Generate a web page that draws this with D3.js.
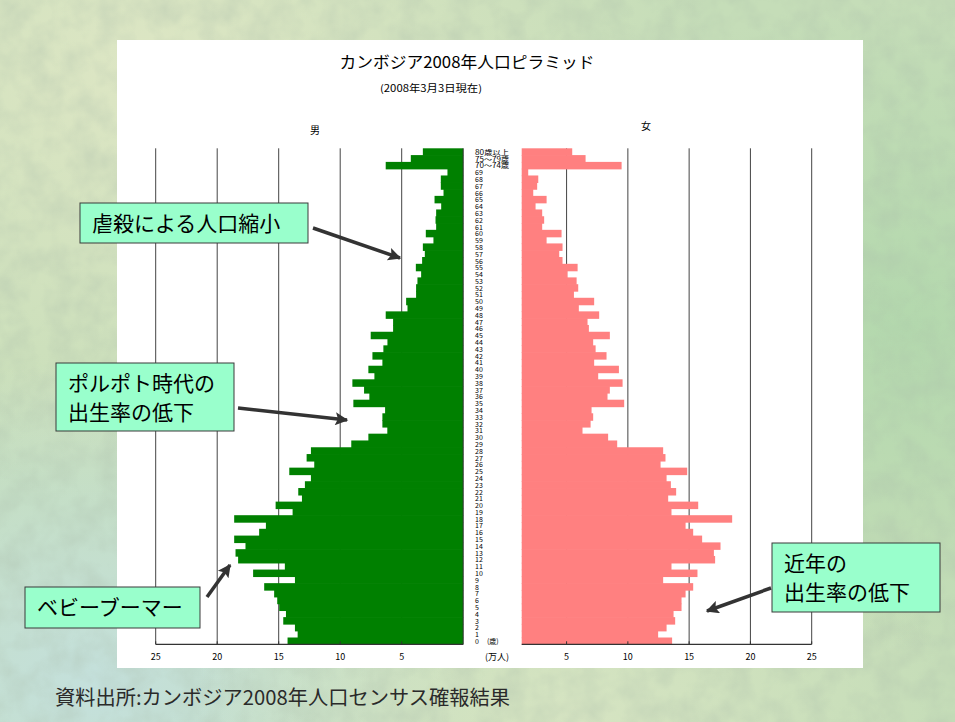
<html>
<head>
<meta charset="utf-8">
<title>カンボジア2008年人口ピラミッド</title>
<style>
  body { margin: 0; padding: 0; }
  svg { display: block; }
</style>
</head>
<body>
<svg width="955" height="722"></svg>
<script src="https://d3js.org/d3.v7.min.js"></script>
<script>

// age groups, top row first
var ageLabels = ["80歳以上", "75～79歳", "70～74歳",
  "69","68","67","66","65","64","63","62","61","60",
  "59","58","57","56","55","54","53","52","51","50",
  "49","48","47","46","45","44","43","42","41","40",
  "39","38","37","36","35","34","33","32","31","30",
  "29","28","27","26","25","24","23","22","21","20",
  "19","18","17","16","15","14","13","12","11","10",
  "9","8","7","6","5","4","3","2","1","0"];

// population, 万人
var male = [3.28, 4.26, 6.30,
  1.28, 1.82, 1.82, 1.60, 2.33, 1.79, 2.20, 2.25, 2.20, 3.04,
  2.42, 3.28, 3.12, 3.34, 3.85, 3.42, 3.72, 3.83, 3.83, 4.64,
  4.53, 6.30, 5.70, 5.70, 7.52, 6.16, 6.49, 7.38, 6.57, 7.71,
  7.22, 9.01, 8.06, 7.63, 8.93, 6.35, 6.57, 6.57, 6.17, 7.71,
  9.10, 12.38, 12.73, 12.11, 14.14, 12.38, 12.87, 13.41, 13.11, 15.25,
  13.87, 18.62, 16.04, 16.59, 18.62, 17.70, 18.51, 18.30, 14.50, 17.08,
  13.68, 16.18, 15.37, 15.12, 14.96, 14.41, 14.63, 13.68, 13.46, 14.28];

var female = [5.46, 6.55, 9.49,
  1.87, 2.69, 2.60, 2.28, 3.37, 2.47, 3.01, 3.17, 3.01, 4.59,
  3.37, 4.67, 4.40, 4.67, 5.90, 5.08, 5.82, 5.95, 5.60, 7.25,
  6.00, 7.66, 6.71, 6.82, 8.53, 7.17, 7.37, 8.26, 7.25, 9.27,
  7.58, 9.57, 8.53, 8.34, 9.70, 7.04, 7.17, 6.96, 6.30, 8.39,
  9.13, 12.88, 13.07, 12.67, 14.84, 13.16, 13.51, 13.94, 13.29, 15.74,
  13.56, 18.51, 14.71, 15.33, 16.06, 17.56, 17.02, 17.12, 13.56, 15.68,
  12.88, 15.33, 14.71, 14.38, 14.38, 13.73, 13.86, 13.16, 12.47, 13.61];

var maleTicks = [25, 20, 15, 10, 5];
var femaleTicks = [5, 10, 15, 20, 25];

var notes = [
  {lines: ["虐殺による人口縮小"]},
  {lines: ["ポルポト時代の", "出生率の低下"]},
  {lines: ["ベビーブーマー"]},
  {lines: ["近年の", "出生率の低下"]}
];

var jp = "'Noto Sans CJK JP', 'Noto Sans', sans-serif";
var svg = d3.select('svg');

// ---- background ----
var defs = svg.append('defs');
function blob(id, cx, cy, r, col) {
  var g = defs.append('radialGradient').attr('id', id).attr('cx', cx).attr('cy', cy).attr('r', r);
  g.append('stop').attr('offset', '0%').attr('stop-color', col);
  g.append('stop').attr('offset', '100%').attr('stop-color', col).attr('stop-opacity', 0);
}
blob('bg1', 0.15, 0.1, 0.6, '#dde6c4');
blob('bg2', 0.1, 0.95, 0.45, '#c4e0dc');
blob('bg3', 0.95, 0.45, 0.45, '#b3d8ad');
blob('bg4', 0.6, 1.0, 0.4, '#d6e4c2');

var tex = defs.append('filter').attr('id', 'tex').attr('x', 0).attr('y', 0).attr('width', '100%').attr('height', '100%');
tex.append('feTurbulence').attr('type', 'fractalNoise').attr('baseFrequency', '0.04').attr('numOctaves', 3).attr('seed', 4);
tex.append('feColorMatrix').attr('type', 'matrix')
  .attr('values', '0 0 0 0 0.4  0 0 0 0 0.5  0 0 0 0 0.4  0 0 0 -1.8 1.2');

svg.append('rect').attr('width', 955).attr('height', 722).attr('fill', '#c5ddb8');
['bg1', 'bg2', 'bg3', 'bg4'].forEach(function(id){
  svg.append('rect').attr('width', 955).attr('height', 722).attr('fill', 'url(#' + id + ')');
});
svg.append('rect').attr('width', 955).attr('height', 722).attr('filter', 'url(#tex)').attr('opacity', 0.3);

// ---- chart paper ----
svg.append('rect')
  .attr('x', 117).attr('y', 40).attr('width', 746).attr('height', 628)
  .attr('fill', '#ffffff');

// ---- scales ----
var y = d3.scaleBand().domain(ageLabels).range([148.3, 644.3]).padding(0);
var xL = d3.scaleLinear().domain([0, 25]).range([463.2, 155.7]);
var xR = d3.scaleLinear().domain([0, 25]).range([505.3, 811.7]);
var rightBase = 521.7;
var yBottom = y.range()[1];
var yTop = y.range()[0];

// gridlines
svg.selectAll('.gl').data(maleTicks).enter().append('line')
  .attr('x1', function(d){ return xL(d); }).attr('x2', function(d){ return xL(d); })
  .attr('y1', yTop).attr('y2', yBottom)
  .style('stroke', '#444').style('stroke-width', 1);
svg.selectAll('.gr').data(femaleTicks).enter().append('line')
  .attr('x1', function(d){ return xR(d); }).attr('x2', function(d){ return xR(d); })
  .attr('y1', yTop).attr('y2', yBottom)
  .style('stroke', '#444').style('stroke-width', 1);

// bars
svg.selectAll('.mbar').data(male).enter().append('rect')
  .attr('x', function(d){ return xL(d); })
  .attr('y', function(d, i){ return y(ageLabels[i]); })
  .attr('width', function(d){ return xL(0) - xL(d); })
  .attr('height', y.bandwidth() + 0.7)
  .attr('fill', '#008000');

svg.selectAll('.fbar').data(female).enter().append('rect')
  .attr('x', rightBase)
  .attr('y', function(d, i){ return y(ageLabels[i]); })
  .attr('width', function(d){ return Math.max(0, xR(d) - rightBase); })
  .attr('height', y.bandwidth() + 0.7)
  .attr('fill', '#ff8080');

// panel frames
svg.append('line').attr('x1', xL(25)).attr('x2', xL(0)).attr('y1', yBottom).attr('y2', yBottom)
  .style('stroke', '#333').style('stroke-width', 1.2);
svg.append('line').attr('x1', xL(0)).attr('x2', xL(0)).attr('y1', yTop).attr('y2', yBottom)
  .style('stroke', '#333').style('stroke-width', 1);
svg.append('line').attr('x1', rightBase).attr('x2', xR(25)).attr('y1', yBottom).attr('y2', yBottom)
  .style('stroke', '#333').style('stroke-width', 1.2);

// small tick marks on bottom axis
svg.selectAll('.tkl').data(maleTicks).enter().append('line')
  .attr('x1', function(d){ return xL(d); }).attr('x2', function(d){ return xL(d); })
  .attr('y1', yBottom - 3).attr('y2', yBottom)
  .style('stroke', '#333');
svg.selectAll('.tkr').data(femaleTicks).enter().append('line')
  .attr('x1', function(d){ return xR(d); }).attr('x2', function(d){ return xR(d); })
  .attr('y1', yBottom - 3).attr('y2', yBottom)
  .style('stroke', '#333');

// tick labels
svg.selectAll('.tll').data(maleTicks).enter().append('text')
  .text(function(d){ return d; })
  .attr('x', function(d){ return xL(d); }).attr('y', 660)
  .attr('text-anchor', 'middle')
  .attr('font-family', jp).attr('font-size', '9px').attr('fill', '#000');
svg.selectAll('.tlr').data(femaleTicks).enter().append('text')
  .text(function(d){ return d; })
  .attr('x', function(d){ return xR(d); }).attr('y', 660)
  .attr('text-anchor', 'middle')
  .attr('font-family', jp).attr('font-size', '9px').attr('fill', '#000');
svg.append('text').text('(万人)')
  .attr('x', 497).attr('y', 660).attr('text-anchor', 'middle')
  .attr('font-family', jp).attr('font-size', '9px');

// age labels
svg.selectAll('.age').data(ageLabels).enter().append('text')
  .text(function(d){ return d; })
  .attr('x', 475)
  .attr('y', function(d){ return y(d) + y.bandwidth() - 0.3; })
  .attr('font-family', jp).attr('font-size', '7px').attr('fill', '#000')
  .attr('textLength', function(d){ return d.length > 2 ? 34 : null; })
  .attr('lengthAdjust', 'spacingAndGlyphs');
svg.append('text').text('(歳)')
  .attr('x', 487).attr('y', yBottom - 0.5)
  .attr('font-family', jp).attr('font-size', '7px');

// titles
svg.append('text').text('カンボジア2008年人口ピラミッド')
  .attr('x', 467).attr('y', 68).attr('text-anchor', 'middle')
  .attr('font-family', jp).attr('font-size', '16px').attr('fill', '#000')
  .attr('textLength', 255).attr('lengthAdjust', 'spacingAndGlyphs');
svg.append('text').text('(2008年3月3日現在)')
  .attr('x', 431).attr('y', 92).attr('text-anchor', 'middle')
  .attr('font-family', jp).attr('font-size', '10px').attr('fill', '#000')
  .attr('textLength', 102).attr('lengthAdjust', 'spacingAndGlyphs');
svg.append('text').text('男')
  .attr('x', 315).attr('y', 134).attr('text-anchor', 'middle')
  .attr('font-family', jp).attr('font-size', '10px');
svg.append('text').text('女')
  .attr('x', 646).attr('y', 130).attr('text-anchor', 'middle')
  .attr('font-family', jp).attr('font-size', '10px');

// source
svg.append('text').text('資料出所:カンボジア2008年人口センサス確報結果')
  .attr('x', 55).attr('y', 705)
  .attr('font-family', jp).attr('font-size', '20px').attr('fill', '#2a2a2a')
  .attr('textLength', 455).attr('lengthAdjust', 'spacingAndGlyphs');

// ---- callouts ----
defs.append('marker')
  .attr('id', 'ah').attr('viewBox', '0 0 10 10')
  .attr('refX', 9).attr('refY', 5)
  .attr('markerWidth', 16).attr('markerHeight', 13)
  .attr('markerUnits', 'userSpaceOnUse')
  .attr('orient', 'auto')
  .append('path').attr('d', 'M0,0 L10,5 L0,10 L2,5 Z').attr('fill', '#333');

var boxes = [
  {x: 80, y: 203, w: 228, h: 40},
  {x: 56, y: 363, w: 178, h: 68},
  {x: 25, y: 587, w: 175, h: 41},
  {x: 772, y: 543, w: 168, h: 69}
];
var arrows = [
  [313, 228, 400, 258],
  [238, 408, 347, 420],
  [207, 597, 230, 565],
  [771, 588, 707, 611]
];

arrows.forEach(function(a){
  svg.append('line')
    .attr('x1', a[0]).attr('y1', a[1]).attr('x2', a[2]).attr('y2', a[3])
    .style('stroke', '#333').style('stroke-width', 3.5)
    .attr('marker-end', 'url(#ah)');
});

notes.forEach(function(n, i){
  var b = boxes[i];
  svg.append('rect')
    .attr('x', b.x).attr('y', b.y).attr('width', b.w).attr('height', b.h)
    .attr('fill', '#99ffcc').style('stroke', '#3a3a3a').style('stroke-width', 1);
  n.lines.forEach(function(t, j){
    svg.append('text').text(t)
      .attr('x', b.x + 12).attr('y', b.y + 28 + j * 29)
      .attr('font-family', jp).attr('font-size', '21px').attr('fill', '#000');
  });
});

</script>
</body>
</html>
